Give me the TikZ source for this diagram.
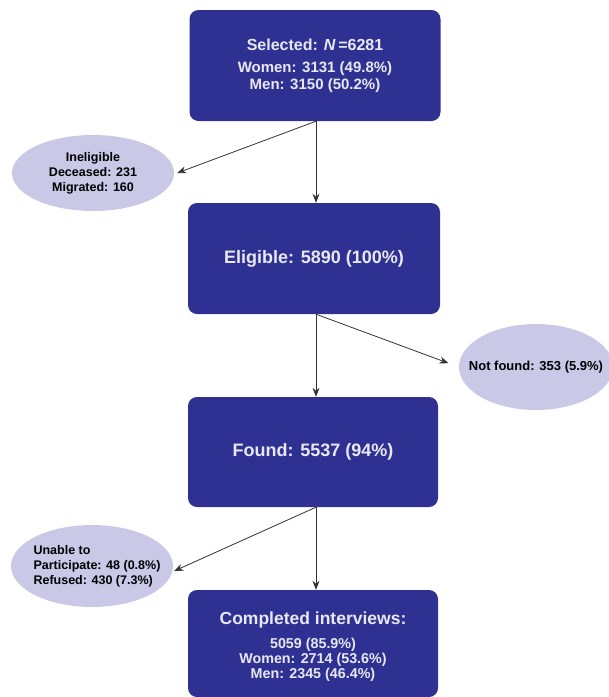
\documentclass[tikz,border=0pt]{standalone}
\usepackage{fontspec}
\setmainfont{Liberation Sans}
\usetikzlibrary{shapes.geometric,arrows.meta,calc}
\definecolor{boxblue}{HTML}{2E3192}
\definecolor{ellfill}{HTML}{C9C8E6}
\definecolor{boxtext}{HTML}{E8E8F2}
\definecolor{linecol}{HTML}{333333}
\tikzset{
  bluebox/.style={rectangle, rounded corners=9pt, fill=boxblue, text=boxtext, align=center, inner sep=0pt},
  ell/.style={ellipse, fill=ellfill, inner sep=0pt},
  elltext/.style={text=black, inner sep=0pt, font=\bfseries\fontsize{12.5}{15}\selectfont},
  conn/.style={draw=linecol, line width=0.8pt, -{Stealth[length=9pt,width=7pt]}}
}
\begin{document}
\begin{tikzpicture}[x=1pt,y=-1pt]
\useasboundingbox (0,0) rectangle (609,697);
\node[bluebox, minimum width=251pt, minimum height=111pt, font=\bfseries\fontsize{15}{17}\selectfont] (b1) at (315,65.5)
  {{\fontsize{16}{19}\selectfont Selected: \textit{N}\,=6281}\\[5pt]
   Women: 3131 (49.8\%)\\
   Men: 3150 (50.2\%)};
\node[bluebox, minimum width=252pt, minimum height=111pt, font=\bfseries\fontsize{18}{22}\selectfont] (b2) at (314,258.5) {Eligible: 5890 (100\%)};
\node[bluebox, minimum width=250pt, minimum height=110pt, font=\bfseries\fontsize{18}{22}\selectfont] (b3) at (313,452) {Found: 5537 (94\%)};
\node[bluebox, minimum width=250pt, minimum height=107pt] (b4) at (313,643.5) {};
\node[text=boxtext, align=center, inner sep=0pt, font=\bfseries\fontsize{14.3}{15.2}\selectfont] (t4) at ([yshift=-3pt]b4.center)
  {{\fontsize{17.5}{21}\selectfont Completed interviews:}\\[9pt]
   5059 (85.9\%)\\
   Women: 2714 (53.6\%)\\
   Men: 2345 (46.4\%)};
\node[ell, minimum width=162pt, minimum height=76pt] (e1) at (93,173) {};
\node[elltext, align=center] (t1) at (e1.center) {Ineligible\\Deceased: 231\\Migrated: 160};
\node[ell, minimum width=154pt, minimum height=86pt] (e2) at (536,367) {};
\node[elltext, font=\bfseries\fontsize{13}{15}\selectfont] (t2) at (e2.center) {Not found: 353 (5.9\%)};
\node[ell, minimum width=162pt, minimum height=82pt] (e3) at (92,566) {};
\node[elltext, align=left] (t3) at ([xshift=5pt]e3.center) {Unable to\\Participate: 48 (0.8\%)\\Refused: 430 (7.3\%)};
\coordinate (s1) at ($(b1.south)+(1,0)$);
\coordinate (s2) at ($(b2.south)+(2,0)$);
\coordinate (s3) at ($(b3.south)+(3,0)$);
\draw[conn] (b1.south -| s1) -- (b2.north -| s1);
\draw[conn] (s1) -- ([xshift=3pt]e1.east);
\draw[conn] (s2) -- (b3.north -| s2);
\draw[conn, shorten >=11pt] (s2) -- (e2.west);
\draw[conn] (s3) -- (b4.north -| s3);
\draw[conn] (s3) -- ([xshift=1pt,yshift=-5pt]e3.east);
\end{tikzpicture}
\end{document}
